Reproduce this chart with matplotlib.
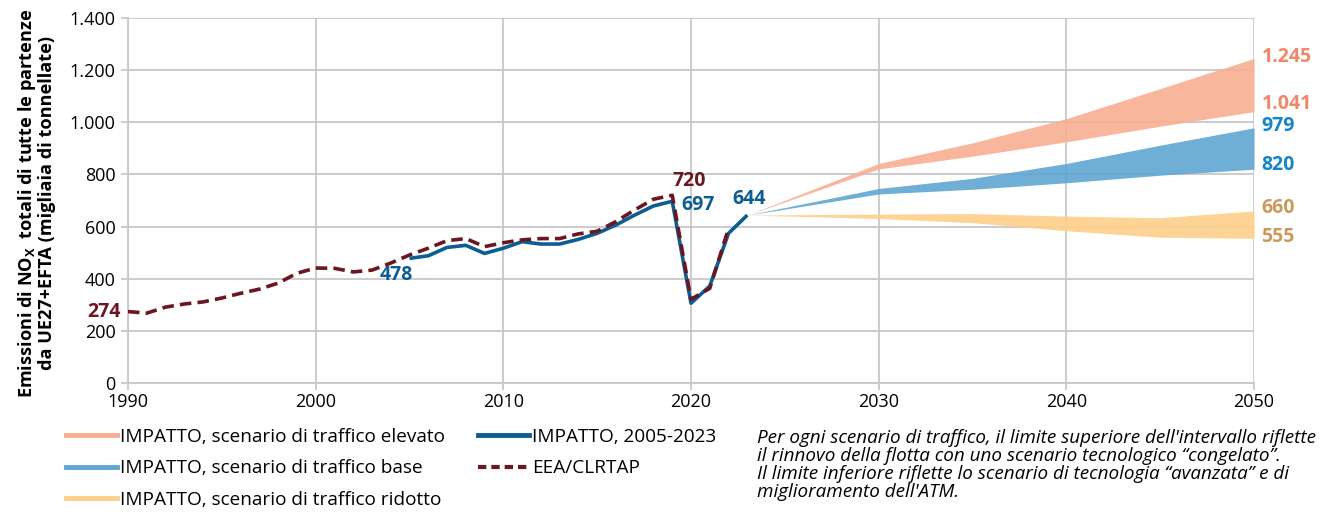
import matplotlib
matplotlib.use("Agg")
import matplotlib.pyplot as plt
from matplotlib.ticker import FuncFormatter
from matplotlib.lines import Line2D

# ---------------- data ----------------
eea_years = list(range(1990, 2023))
eea_values = [274, 268, 291, 303, 311, 326, 344, 360, 383, 421, 441, 440, 426, 433, 460,
              491, 517, 546, 554, 523, 538, 549, 554, 554, 572, 582, 619, 664, 705, 720,
              321, 363, 593]

impatto_years = list(range(2005, 2024))
impatto_values = [478, 488, 520, 528, 497, 517, 542, 533, 533, 551, 574, 606, 644, 679, 697,
                  306, 372, 574, 644]

scen_years = [2023, 2030, 2035, 2040, 2045, 2050]
high_upper = [644, 842, 921, 1014, 1129, 1245]
high_lower = [644, 821, 870, 925, 985, 1041]
base_upper = [644, 746, 785, 842, 912, 979]
base_lower = [644, 725, 743, 768, 797, 820]
low_upper = [644, 648, 650, 640, 634, 660]
low_lower = [644, 631, 615, 584, 559, 555]

legend_labels = ["IMPATTO, scenario di traffico elevato",
                 "IMPATTO, scenario di traffico base",
                 "IMPATTO, scenario di traffico ridotto",
                 "IMPATTO, 2005-2023",
                 "EEA/CLRTAP"]

# ---------------- style ----------------
C_HIGH = "#F8AE92"
C_BASE = "#5FA6D2"
C_LOW = "#FDD08A"
C_IMP = "#0C5E92"
C_EEA = "#6B1721"
C_HIGH_T = "#F0876A"
C_BASE_T = "#1385C8"
C_LOW_T = "#C99A5B"

FONT = ["Open Sans", "DejaVu Sans"]
plt.rcParams['font.family'] = FONT

fig = plt.figure(figsize=(13.19, 5.12), dpi=100)
ax = fig.add_axes([128/1319, 1 - 383/512, (1254-128)/1319, (383-18)/512])

ax.fill_between(scen_years, high_lower, high_upper, color=C_HIGH, alpha=0.9, lw=0, zorder=2)
ax.fill_between(scen_years, base_lower, base_upper, color=C_BASE, alpha=0.9, lw=0, zorder=2)
ax.fill_between(scen_years, low_lower, low_upper, color=C_LOW, alpha=0.9, lw=0, zorder=2)

ax.plot(impatto_years, impatto_values, color=C_IMP, lw=2.6, zorder=3, solid_capstyle='butt')
ax.plot(eea_years, eea_values, color=C_EEA, lw=2.6, ls=(0, (3.2, 1.7)), zorder=4)

ax.set_xlim(1990, 2050)
ax.set_ylim(0, 1400)
ax.set_xticks(range(1990, 2051, 10))
ax.set_yticks(range(0, 1401, 200))
ax.yaxis.set_major_formatter(FuncFormatter(lambda v, p: f"{int(v):,}".replace(",", ".")))
ax.grid(True, color="#C8C8C8", lw=1.3, zorder=0)
ax.set_axisbelow(True)
for s in ["top", "right"]:
    ax.spines[s].set_visible(False)
for s in ["left", "bottom"]:
    ax.spines[s].set_color("#C8C8C8")
    ax.spines[s].set_linewidth(1.3)
ax.tick_params(axis='both', colors="#C8C8C8", labelcolor="black", labelsize=13, length=5, width=1.3)
ax.tick_params(axis='x', pad=2)
ax.tick_params(axis='y', pad=4)

fig.text(36/1319, 1 - 203/512,
         "Emissioni di NO$_\\mathregular{X}$  totali di tutte le partenze\nda UE27+EFTA (migliaia di tonnellate)",
         fontsize=13.1, fontweight='bold', rotation=90, ha='center', va='center',
         multialignment='center', linespacing=0.95)

# data labels
lab = dict(fontsize=14, fontweight='bold', clip_on=False)
ax.text(1989.6, eea_values[0], f"{eea_values[0]}", color=C_EEA, ha='right', va='center', **lab)
ax.text(2004.3, impatto_values[0] - 25, f"{impatto_values[0]}", color=C_IMP, ha='center', va='top', **lab)
ax.text(2019.0, eea_values[29] + 15, f"{eea_values[29]}", color=C_EEA, ha='left', va='bottom', **lab)
ax.text(2019.5, impatto_values[14] - 16, f"{impatto_values[14]}", color=C_IMP, ha='left', va='center', **lab)
ax.text(2022.2, impatto_values[-1] + 25, f"{impatto_values[-1]}", color=C_IMP, ha='left', va='bottom', **lab)

def fmt(v):
    return f"{v:,}".replace(",", ".")

ax.text(2050.4, high_upper[-1] + 6, fmt(high_upper[-1]), color=C_HIGH_T, ha='left', va='center', **lab)
ax.text(2050.4, high_lower[-1] + 30, fmt(high_lower[-1]), color=C_HIGH_T, ha='left', va='center', **lab)
ax.text(2050.4, base_upper[-1] + 8, fmt(base_upper[-1]), color=C_BASE_T, ha='left', va='center', **lab)
ax.text(2050.4, base_lower[-1] + 16, fmt(base_lower[-1]), color=C_BASE_T, ha='left', va='center', **lab)
ax.text(2050.4, low_upper[-1] + 12, fmt(low_upper[-1]), color=C_LOW_T, ha='left', va='center', **lab)
ax.text(2050.4, low_lower[-1] + 6, fmt(low_lower[-1]), color=C_LOW_T, ha='left', va='center', **lab)

# legend
handles = [Line2D([], [], color=C_HIGH, lw=3.5),
           Line2D([], [], color=C_BASE, lw=3.5),
           Line2D([], [], color=C_LOW, lw=3.5),
           Line2D([], [], color=C_IMP, lw=3.5),
           Line2D([], [], color=C_EEA, lw=3, ls=(0, (2, 1.2)))]
leg_font = {'family': FONT, 'size': 13.7}
fig.legend(handles + [Line2D([], [], alpha=0)], legend_labels + [""], ncol=2,
           loc='upper left', bbox_to_anchor=(66/1319, 1 - 428/512), frameon=False,
           prop=leg_font, handlelength=2.7, handletextpad=0.15, columnspacing=1.7,
           labelspacing=0.70, borderaxespad=0, borderpad=0)

note = ("Per ogni scenario di traffico, il limite superiore dell'intervallo riflette\n"
        "il rinnovo della flotta con uno scenario tecnologico \u201ccongelato\u201d.\n"
        "Il limite inferiore riflette lo scenario di tecnologia \u201cavanzata\u201d e di\n"
        "miglioramento dell'ATM.")
fig.text(757/1319, 1 - 429/512, note, fontsize=13.6, style='italic', ha='left', va='top',
         linespacing=1.0, family=FONT)

fig.savefig("out.png", dpi=100)
